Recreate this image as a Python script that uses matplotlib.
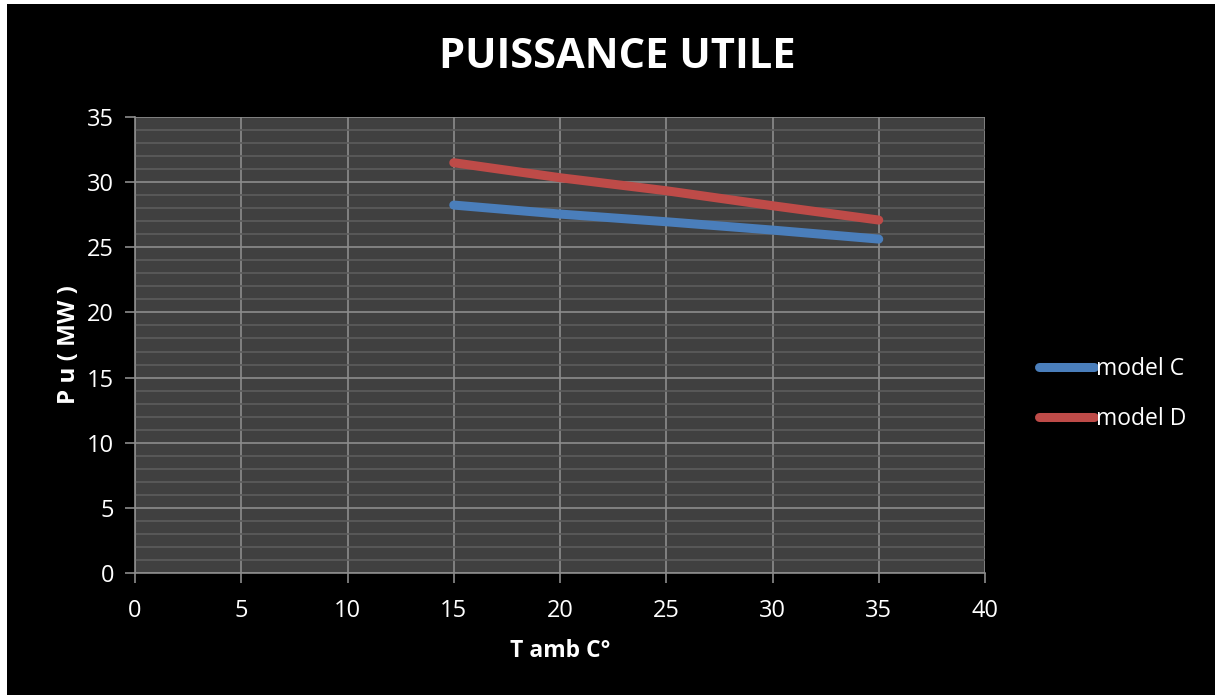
import matplotlib.pyplot as plt
from matplotlib.patches import Rectangle
from matplotlib.ticker import MultipleLocator

# data
t_amb = [15, 20, 25, 30, 35]
model_c = [28.24, 27.55, 26.96, 26.32, 25.63]
model_d = [31.49, 30.34, 29.34, 28.19, 27.09]

plt.rcParams['font.family'] = ['Open Sans', 'DejaVu Sans']

fig = plt.figure(figsize=(12.15, 6.95), dpi=100, facecolor='black')
# thin white strips on top and left edges
fig.patches.append(Rectangle((0, 1 - 4 / 695), 1, 4 / 695, transform=fig.transFigure,
                             facecolor='white', edgecolor='none'))
fig.patches.append(Rectangle((0, 0), 7 / 1215, 1, transform=fig.transFigure,
                             facecolor='white', edgecolor='none'))

ax = fig.add_axes([135 / 1215, 122 / 695, 850 / 1215, 456 / 695])
ax.set_facecolor('#404040')

ax.plot(t_amb, model_c, color='#4A7EBB', lw=6.5, solid_capstyle='round', label='model C')
ax.plot(t_amb, model_d, color='#BE4B48', lw=6.5, solid_capstyle='round', label='model D')

ax.set_xlim(0, 40)
ax.set_ylim(0, 35)
ax.xaxis.set_major_locator(MultipleLocator(5))
ax.yaxis.set_major_locator(MultipleLocator(5))
ax.yaxis.set_minor_locator(MultipleLocator(1))

ax.grid(which='major', color='#8c8c8c', lw=1.2)
ax.grid(which='minor', axis='y', color='#5c5c5c', lw=1.2)
ax.set_axisbelow(True)

for s in ['top', 'right']:
    ax.spines[s].set_visible(False)
for s in ['left', 'bottom']:
    ax.spines[s].set_color('#8c8c8c')
    ax.spines[s].set_linewidth(1.2)

ax.tick_params(which='major', colors='#8c8c8c', length=7, width=1.2, labelsize=17,
               labelcolor='white')
ax.tick_params(which='minor', length=0)
ax.tick_params(axis='x', pad=12)
ax.tick_params(axis='y', pad=8)

ax.set_xlabel('T amb C°', color='white', fontsize=16.5, fontweight='bold', labelpad=11)
ax.set_ylabel('P u ( MW )', color='white', fontsize=17.5, fontweight='bold', labelpad=4)

fig.text(617 / 1215, 1 - 58 / 695, 'PUISSANCE UTILE', color='white', fontsize=30,
         fontweight='bold', ha='center', va='center')

leg = fig.legend(loc='center left', bbox_to_anchor=(1018 / 1215, 1 - 394 / 695),
                 frameon=False, fontsize=16.5, labelcolor='white',
                 handlelength=2.4, handletextpad=0.1, labelspacing=1.15)

fig.savefig('out.png', dpi=100, facecolor=fig.get_facecolor())
